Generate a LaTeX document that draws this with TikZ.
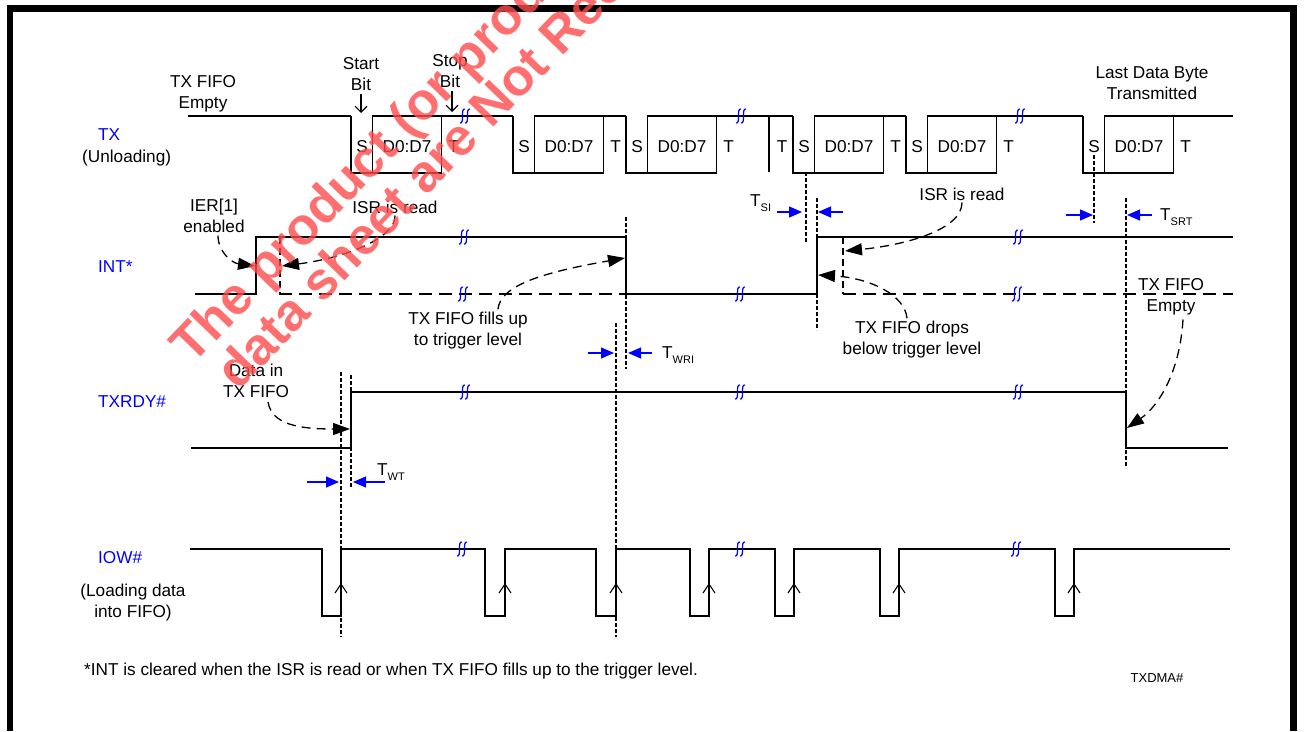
\documentclass[tikz,border=0pt]{standalone}
\usepackage{fontspec}
\setmainfont{Liberation Sans}
\usepackage{tikz}
\usetikzlibrary{arrows.meta}

% timing name with a lowered index
\newcommand{\tname}[1]{T{\fontsize{11}{11}\selectfont\raisebox{-5pt}{#1}}}

\begin{document}
\begin{tikzpicture}[x=1pt,y=-1pt,
  sig/.style={line width=1.4pt},
  lowd/.style={line width=1.4pt,dash pattern=on 13pt off 7pt},
  edged/.style={line width=1.3pt,dash pattern=on 7pt off 4pt},
  guide/.style={line width=1.2pt,dash pattern=on 3.5pt off 2.5pt},
  note/.style={line width=1.3pt,dash pattern=on 9pt off 6pt,-{Triangle[length=17pt,width=12pt]}},
  tarr/.style={blue,line width=1.2pt,-{Triangle[length=13pt,width=11pt]}},
  barb/.style={line width=1.1pt,-{Straight Barb[length=6pt,width=12pt]}},
  txt/.style={font=\fontsize{17.2}{21}\selectfont,inner sep=0pt},
  lbl/.style={txt,text=blue},
  wm/.style={rotate=46,inner sep=0pt,text=red!70,text opacity=0.8,font=\fontsize{52}{52}\selectfont\bfseries},
  brk/.pic={
    \draw[blue,line width=1.2pt] (-5,7) .. controls (0,8) and (-5,-8) .. (0,-7);
    \draw[blue,line width=1.2pt] (0,7) .. controls (5,8) and (0,-8) .. (5,-7);
  }
]
\useasboundingbox (0,0) rectangle (1304,731);
\fill[white] (0,0) rectangle (1304,731);

% frame
\fill (7,5) rectangle (1297,12);
\fill (7,5) rectangle (13,731);
\fill (1290,5) rectangle (1297,731);

% signal names
\node[lbl,anchor=west] (tx) at (98,135) {TX};
\node[txt,anchor=west] (txu) at (82,158) {(Unloading)};
\node[lbl,anchor=west] (int) at (98,267) {INT*};
\node[lbl,anchor=west] (rdy) at (98,402) {TXRDY\#};
\node[lbl,anchor=west] (iow) at (98,558) {IOW\#};
\node[txt,align=center] (iowl) at (133,603) {(Loading data\\into FIFO)};

% TX
\draw[sig] (188,116) -- (351,116);
\foreach \s/\n in {351/513,513/626,626/793,793/906,906/1083,1083/1233} {
  \draw[sig] (\s,116) -- (\s,173) -- ({\s+90.5},173) -- ({\s+90.5},116);
  \draw[sig] ({\s+21.7},173) -- ({\s+21.7},116) -- (\n,116);
  \node[txt] (s\s) at ({\s+11},147) {S};
  \node[txt] (d\s) at ({\s+56},147) {D0:D7};
  \node[txt] (t\s) at ({\s+102.5},147) {T};
}
\draw[sig] (769,116) -- (769,172);
\node[txt] (tlone) at (782,147) {T};

\node[txt,align=center] (empty1) at (203,93.5) {TX FIFO\\Empty};
\node[txt,align=center] (start) at (361,74) {Start\\Bit};
\node[txt,align=center] (stop) at (450,71.5) {Stop\\Bit};
\node[txt,align=center] (last) at (1152,83) {Last Data Byte\\Transmitted};
\coordinate (sbit) at (361,113);
\coordinate (pbit) at (452,112);
\draw[barb] ([yshift=-3pt]start.south) -- (sbit);
\draw[barb] ([yshift=-3pt,xshift=2pt]stop.south) -- (pbit);

% INT*
\draw[sig] (195,294) -- (256,294) -- (256,237) -- (626,237) -- (626,294) -- (817,294) -- (817,237) -- (1233,237);
\draw[lowd] (279,294) -- (626,294);
\draw[lowd] (843,294) -- (1233,294);
\draw[edged] (280,237) -- (280,294);
\draw[edged] (843,237) -- (843,294);

% TXRDY#
\draw[sig] (191,448) -- (351,448) -- (351,392) -- (1126,392) -- (1126,448) -- (1228,448);

% IOW#
\draw[sig] (190,549) foreach \f/\r in {322/341,485/505,596/616,690/709,775/794,880/899,1055/1074} { -- (\f,549) -- (\f,616) -- (\r,616) -- (\r,549) } -- (1230,549);
\foreach \r in {341,505,616,709,794,899,1074}
  \draw[line width=1.1pt] ({\r-6},593) -- (\r,584) -- ({\r+6},593);

% breaks
\foreach \bx/\by in {465/116,741/116,1020/116,464/237,463/294,740/294,1018/237,1017/294,465/392,740/392,1018/392,462/549,740/549,1016/549}
  \pic at (\bx,\by) {brk};

% guides
\foreach \gx/\ga/\gb in {341/372/637,351/375/488,626/217/369,616/323/637,806/172/242,817/198/330,1094/155/223,1126/198/468}
  \draw[guide] (\gx,\ga) -- (\gx,\gb);

% notes
\node[txt,align=center] (ier) at (214,215.5) {IER[1]\\enabled};
\node[txt] (isra) at (395,207) {ISR is read};
\node[txt,align=center] (fill) at (468,331) {TX FIFO fills up\\to trigger level};
\node[txt] (isrb) at (962,194) {ISR is read};
\node[txt,align=center] (drop) at (912,340) {TX FIFO drops\\below trigger level};
\node[txt,align=center] (empty2) at (1171,297) {TX FIFO\\Empty};
\node[txt,align=center] (datain) at (256,381) {Data in\\TX FIFO};

\coordinate (ierT) at (255,266);
\coordinate (israT) at (282,266);
\coordinate (fillT) at (625,258);
\coordinate (isrbT) at (845,251);
\coordinate (dropT) at (818,275);
\coordinate (emptyT) at (1127,428);
\coordinate (dataT) at (350,429);

\draw[note] ([xshift=4pt,yshift=-3pt]ier.south) .. controls (218,252) and (232,263) .. (ierT);
\draw[note] ([yshift=-2pt]isra.south) .. controls (396,238) and (345,258) .. (israT);
\draw[note] ([xshift=30pt,yshift=3pt]fill.north) .. controls (500,285) and (545,272) .. (fillT);
\draw[note] ([yshift=-2pt]isrb.south) .. controls (962,230) and (905,245) .. (isrbT);
\draw[note] ([xshift=-5pt,yshift=3pt]drop.north) .. controls (905,295) and (870,278) .. (dropT);
\draw[note] ([xshift=12pt,yshift=-4pt]empty2.south) .. controls (1180,370) and (1160,405) .. (emptyT);
\draw[note] ([xshift=12pt,yshift=-4pt]datain.south) .. controls (272,425) and (300,429) .. (dataT);

% timing marks
\node[txt,anchor=base west] (tsi) at (750,206) {\tname{SI}};
\node[txt,anchor=base west] (twri) at (662,358) {\tname{WRI}};
\node[txt,anchor=base west] (twt) at (377,475) {\tname{WT}};
\node[txt,anchor=base west] (tsrt) at (1160,220) {\tname{SRT}};
\coordinate (si1) at (777,212);  \coordinate (si2) at (802,212);
\coordinate (si3) at (843,212);  \coordinate (si4) at (818,212);
\coordinate (wr1) at (588,353);  \coordinate (wr2) at (614,353);
\coordinate (wr3) at (652,353);  \coordinate (wr4) at (628,353);
\coordinate (wt1) at (307,482);  \coordinate (wt2) at (339,482);
\coordinate (wt3) at (385,482);  \coordinate (wt4) at (353,482);
\coordinate (sr1) at (1066,215); \coordinate (sr2) at (1093,215);
\coordinate (sr3) at (1152,215); \coordinate (sr4) at (1127,215);
\draw[tarr] (si1) -- (si2);
\draw[tarr] (si3) -- (si4);
\draw[tarr] (wr1) -- (wr2);
\draw[tarr] (wr3) -- (wr4);
\draw[tarr] (wt1) -- (wt2);
\draw[tarr] (wt3) -- (wt4);
\draw[tarr] (sr1) -- (sr2);
\draw[tarr] (sr3) -- (sr4);

% footnote
\node[txt,anchor=west] (foot) at (84,671) {*INT is cleared when the ISR is read or when TX FIFO fills up to the trigger level.};
\node[inner sep=0pt,font=\fontsize{13}{13}\selectfont] (code) at (1157,678) {TXDMA\#};

% watermark
\begin{scope}
\clip (0,0) rectangle (1304,731);
\node[wm,anchor=base west] (wma) at (192,366) {The product (or products)};
\node[wm,anchor=base west] (wmb) at (238,392) {data sheet are Not Recommended};
\end{scope}
\end{tikzpicture}
\end{document}
